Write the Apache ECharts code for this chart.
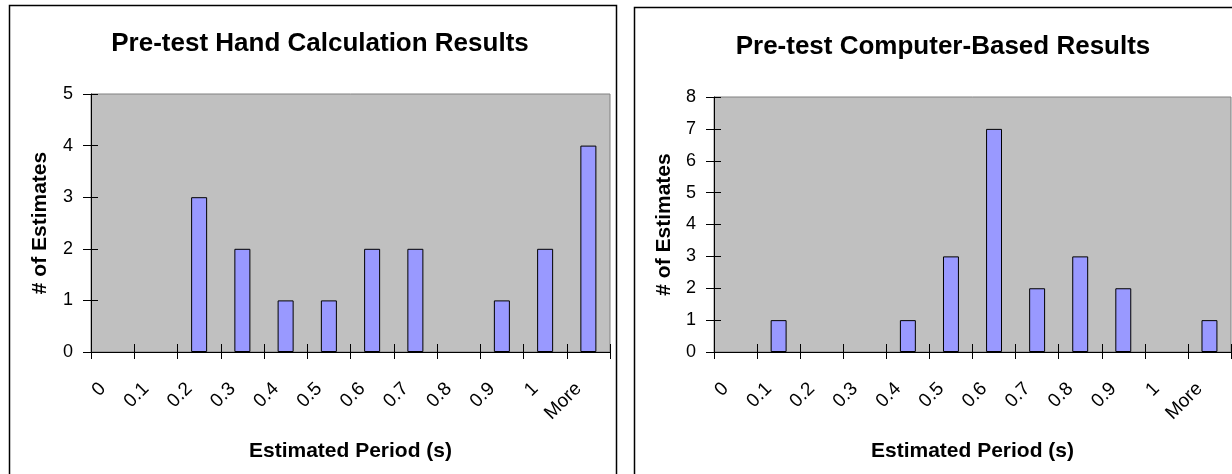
<!DOCTYPE html>
<html>
<head>
<meta charset="utf-8">
<script src="https://cdn.jsdelivr.net/npm/echarts@6/dist/echarts.min.js"></script>
<style>
html,body{margin:0;padding:0;background:#fff;}
#chart{width:1232px;height:474px;}
</style>
</head>
<body>
<div id="chart"></div>
<script>
// Data
const categories = ['0','0.1','0.2','0.3','0.4','0.5','0.6','0.7','0.8','0.9','1','More'];
const handValues = [0,0,3,2,1,1,2,2,0,1,2,4];
const computerValues = [0,1,0,0,1,3,7,2,3,2,0,1];
const leftTitle = 'Pre-test Hand Calculation Results';
const rightTitle = 'Pre-test Computer-Based Results';
const xName = 'Estimated Period (s)';
const yName = '# of Estimates';

const FONT = '"Liberation Sans", Arial, sans-serif';
const chart = echarts.init(document.getElementById('chart'), null, {renderer:'canvas'});

// empty bins are not drawn as bars (avoid a zero-height outline)
const asBars = vals => vals.map(v => v === 0 ? '-' : v);

function xAxes(gridIndex){
  return [
    {
      type:'category', gridIndex, data: categories, position:'bottom',
      boundaryGap:true,
      axisLine:{show:true, onZero:false, lineStyle:{color:'#000', width:1}},
      axisTick:{show:true, length:7, lineStyle:{color:'#000'}},
      axisLabel:{rotate:45, margin:24, padding:[0,14,0,0], fontSize:19, color:'#000', fontFamily:FONT, interval:0},
      name: xName, nameLocation:'middle', nameGap:89,
      nameTextStyle:{fontSize:21, fontWeight:'bold', color:'#000', fontFamily:FONT},
      splitLine:{show:false}
    },
    {
      type:'category', gridIndex, data: categories, position:'bottom',
      boundaryGap:true,
      axisLine:{show:false, onZero:false},
      axisTick:{show:true, inside:true, length:8, lineStyle:{color:'#000'}},
      axisLabel:{show:false},
      splitLine:{show:false}
    }
  ];
}
function yAxes(gridIndex, max, gap){
  return [
    {
      type:'value', gridIndex, min:0, max:max, interval:1, position:'left',
      axisLine:{show:true, onZero:false, lineStyle:{color:'#000', width:1}},
      axisTick:{show:true, length:8, lineStyle:{color:'#000'}},
      axisLabel:{margin:18, fontSize:18, color:'#000', fontFamily:FONT},
      splitLine:{show:false},
      name: yName, nameLocation:'middle', nameGap:gap,
      nameTextStyle:{fontSize:21, fontWeight:'bold', color:'#000', fontFamily:FONT}
    },
    {
      type:'value', gridIndex, min:0, max:max, interval:1, position:'left',
      axisLine:{show:false, onZero:false},
      axisTick:{show:true, inside:true, length:7, lineStyle:{color:'#000'}},
      axisLabel:{show:false},
      splitLine:{show:false}
    }
  ];
}

const option = {
  animation:false,
  backgroundColor:'#fff',
  graphic:[
    {type:'rect', shape:{x:9.5, y:5.5, width:607, height:490}, style:{fill:'none', stroke:'#000', lineWidth:1.5}, z:0},
    {type:'rect', shape:{x:634.5, y:7.5, width:620, height:490}, style:{fill:'none', stroke:'#000', lineWidth:1.5}, z:0}
  ],
  title:[
    {text:leftTitle, left:315, top:39, textAlign:'center', textVerticalAlign:'middle',
     textStyle:{fontSize:26, fontWeight:'bold', color:'#000', fontFamily:FONT}},
    {text:rightTitle, left:938, top:42, textAlign:'center', textVerticalAlign:'middle',
     textStyle:{fontSize:26, fontWeight:'bold', color:'#000', fontFamily:FONT}}
  ],
  grid:[
    {left:91, top:94, width:519, height:258, show:true, backgroundColor:'#C0C0C0', borderColor:'#808080', borderWidth:1, containLabel:false},
    {left:714, top:97, width:517, height:255, show:true, backgroundColor:'#C0C0C0', borderColor:'#808080', borderWidth:1, containLabel:false}
  ],
  xAxis:[...xAxes(0), ...xAxes(1)],
  yAxis:[...yAxes(0,5,40), ...yAxes(1,8,39)],
  series:[
    {type:'bar', xAxisIndex:0, yAxisIndex:0, data:asBars(handValues), barWidth:'37%',
     itemStyle:{color:'#9999FF', borderColor:'#000', borderWidth:1}},
    {type:'bar', xAxisIndex:2, yAxisIndex:2, data:asBars(computerValues), barWidth:'37%',
     itemStyle:{color:'#9999FF', borderColor:'#000', borderWidth:1}}
  ]
};
chart.setOption(option);
</script>
</body>
</html>
